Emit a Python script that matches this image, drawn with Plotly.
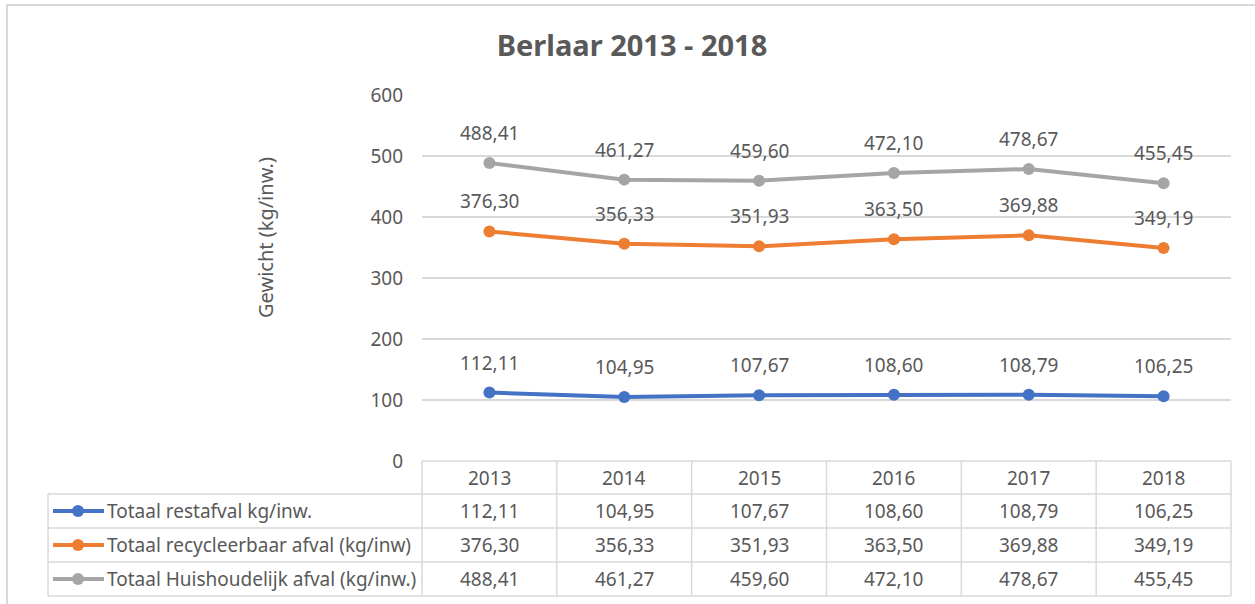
import plotly.graph_objects as go

W, H = 1255, 604

# data
years = ['2013', '2014', '2015', '2016', '2017', '2018']
series_names = [
    'Totaal restafval kg/inw.',
    'Totaal recycleerbaar afval (kg/inw)',
    'Totaal Huishoudelijk afval (kg/inw.)',
]
restafval = [112.11, 104.95, 107.67, 108.60, 108.79, 106.25]
recycleerbaar = [376.30, 356.33, 351.93, 363.50, 369.88, 349.19]
huishoudelijk = [488.41, 461.27, 459.60, 472.10, 478.67, 455.45]
colors = ['#4472C4', '#ED7D31', '#A5A5A5']

all_values = [restafval, recycleerbaar, huishoudelijk]

FONT = 'Noto Sans'
TXT = '#595959'
GRID = '#D9D9D9'
FS = 19


def px_x(p):
    return p / W


def px_y(p):
    return 1 - p / H


def fmt(v):
    return f'{v:.2f}'.replace('.', ',')


fig = go.Figure()

for name, vals, col in zip(series_names, all_values, colors):
    fig.add_trace(go.Scatter(
        x=years, y=vals, name=name, mode='lines+markers',
        line=dict(color=col, width=4),
        marker=dict(color=col, size=12),
        showlegend=False,
    ))

annotations = []
# data labels above points (x given as category index)
for vals in all_values:
    for i, v in enumerate(vals):
        annotations.append(dict(
            x=i, y=v, xref='x', yref='y', text=fmt(v), showarrow=False,
            xanchor='center', yanchor='middle',
            yshift=30, font=dict(family=FONT, size=FS, color=TXT),
        ))

# table geometry (pixels)
tab_left, plot_left, plot_right = 48, 422, 1231
row_edges = [461, 494, 528, 562, 596]

shapes = []
line_style = dict(color=GRID, width=1.5)
shapes.append(dict(type='line', xref='paper', yref='paper',
                   x0=px_x(plot_left), x1=px_x(plot_right),
                   y0=px_y(row_edges[0]), y1=px_y(row_edges[0]), line=line_style))
for r in row_edges[1:]:
    shapes.append(dict(type='line', xref='paper', yref='paper',
                       x0=px_x(tab_left), x1=px_x(plot_right),
                       y0=px_y(r), y1=px_y(r), line=line_style))
col_w = (plot_right - plot_left) / len(years)
for i in range(len(years) + 1):
    xp = plot_left + i * col_w
    shapes.append(dict(type='line', xref='paper', yref='paper',
                       x0=px_x(xp), x1=px_x(xp),
                       y0=px_y(row_edges[0]), y1=px_y(row_edges[-1]), line=line_style))
shapes.append(dict(type='line', xref='paper', yref='paper',
                   x0=px_x(tab_left), x1=px_x(tab_left),
                   y0=px_y(row_edges[1]), y1=px_y(row_edges[-1]), line=line_style))
# outer chart frame
shapes.append(dict(type='rect', xref='paper', yref='paper',
                   x0=px_x(7), x1=px_x(1262), y0=px_y(609), y1=px_y(5),
                   line=dict(color='#D9D9D9', width=2)))

# header row: years
for i, yr in enumerate(years):
    annotations.append(dict(
        x=i, y=px_y((row_edges[0] + row_edges[1]) / 2), xref='x', yref='paper',
        xanchor='center', yanchor='middle',
        text=yr, showarrow=False, font=dict(family=FONT, size=FS, color=TXT),
    ))

# value rows + legend keys
for k, (name, vals, col) in enumerate(zip(series_names, all_values, colors)):
    yc = (row_edges[k + 1] + row_edges[k + 2]) / 2
    for i, v in enumerate(vals):
        annotations.append(dict(
            x=i, y=px_y(yc), xref='x', yref='paper', text=fmt(v),
            xanchor='center', yanchor='middle',
            showarrow=False, font=dict(family=FONT, size=FS, color=TXT),
        ))
    shapes.append(dict(type='line', xref='paper', yref='paper',
                       x0=px_x(53), x1=px_x(104), y0=px_y(yc), y1=px_y(yc),
                       line=dict(color=col, width=4)))
    shapes.append(dict(type='circle', xref='paper', yref='paper',
                       x0=px_x(72), x1=px_x(84), y0=px_y(yc + 6), y1=px_y(yc - 6),
                       fillcolor=col, line=dict(color=col, width=0)))
    annotations.append(dict(
        x=px_x(105), y=px_y(yc), xref='paper', yref='paper', text=name,
        xanchor='left', yanchor='middle',
        showarrow=False, font=dict(family=FONT, size=FS, color=TXT),
    ))

# y axis title
annotations.append(dict(
    x=px_x(265), y=px_y(238), xref='paper', yref='paper', text='Gewicht (kg/inw.)',
    xanchor='center', yanchor='middle',
    textangle=-90, showarrow=False, font=dict(family=FONT, size=20, color=TXT),
))

fig.update_layout(
    width=W, height=H,
    margin=dict(l=0, r=0, t=0, b=0, pad=0, autoexpand=False),
    paper_bgcolor='white', plot_bgcolor='white',
    title=dict(text='<b>Berlaar 2013 - 2018</b>', x=632 / W, xanchor='center',
               y=px_y(46), yanchor='middle',
               font=dict(family=FONT, size=29, color=TXT)),
    xaxis=dict(type='category', domain=[px_x(plot_left), px_x(plot_right)],
               range=[-0.5, 5.5], automargin=False,
               showticklabels=False, showgrid=False, zeroline=False, showline=False),
    yaxis=dict(domain=[px_y(461), px_y(95)], range=[0, 600], dtick=100,
               automargin=False,
               gridcolor=GRID, gridwidth=1.5, zeroline=False, showline=False,
               ticks='', ticklabelstandoff=18,
               tickfont=dict(family=FONT, size=FS, color=TXT)),
    shapes=shapes,
    annotations=annotations,
)

fig.write_html('out.html', config={'displayModeBar': False},
               post_script="document.body.style.margin='0';")
